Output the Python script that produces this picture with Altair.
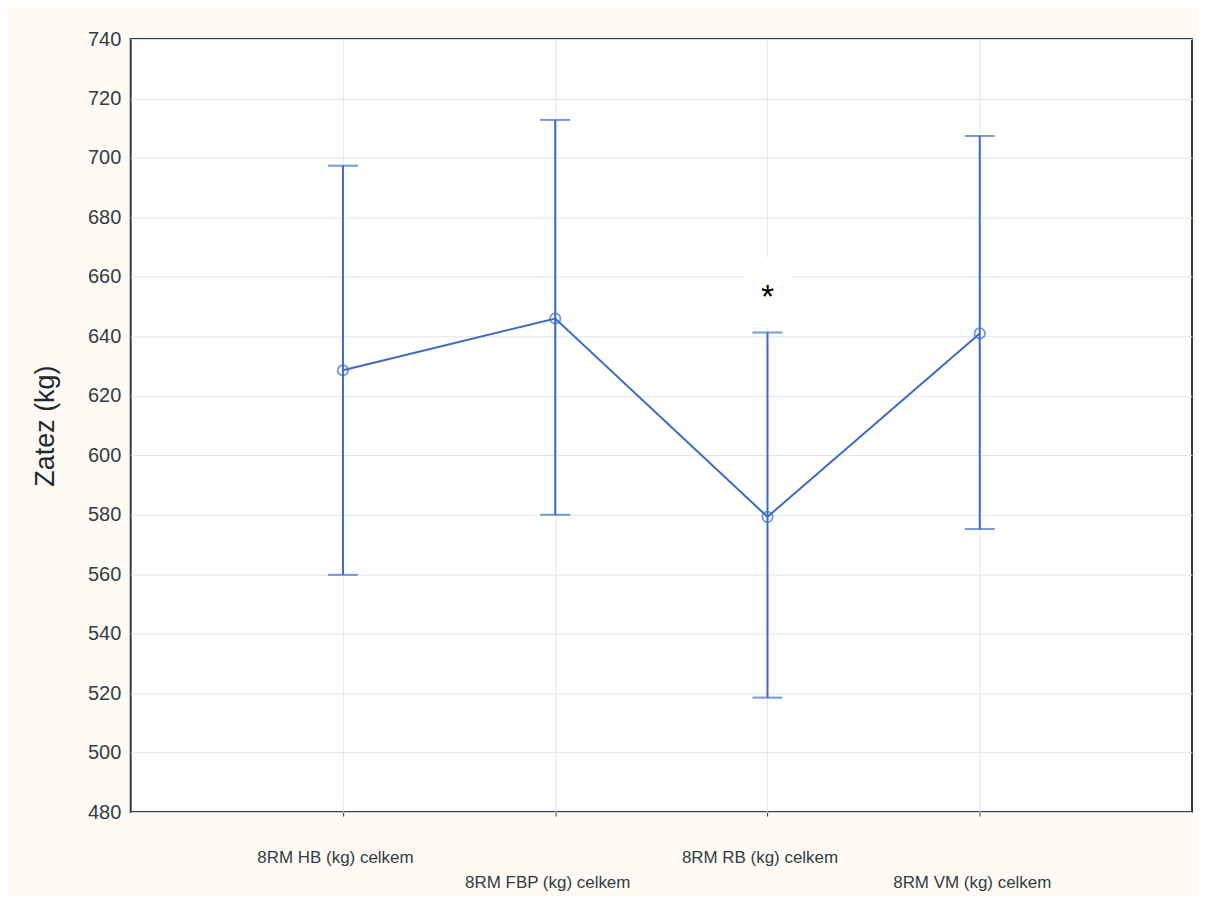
import altair as alt
import pandas as pd

categories = ["8RM HB (kg) celkem", "8RM FBP (kg) celkem", "8RM RB (kg) celkem", "8RM VM (kg) celkem"]
positions = [1, 2, 3, 4]
means = [628.6, 646.0, 579.3, 641.0]
upper = [697.4, 712.8, 641.3, 707.4]
lower = [559.8, 580.0, 518.5, 575.2]

star_pos = [3]
star_val = [654.8]
star_text = ["*"]
# white patch behind the asterisk (data units)
patch_x = [2.89]
patch_x2 = [3.11]
patch_y = [643.0]
patch_y2 = [666.5]

df = pd.DataFrame({"pos": positions, "cat": categories, "mean": means, "upper": upper, "lower": lower})
star_df = pd.DataFrame({"pos": star_pos, "val": star_val, "t": star_text})
patch_df = pd.DataFrame({"x": patch_x, "x2": patch_x2, "y": patch_y, "y2": patch_y2})

blue = "#3a6cc6"
grid = "#dce6ef"
ink = "#2f3d44"

label_expr = (
    "datum.value == 1 ? ['8RM HB (kg) celkem', ''] : "
    "datum.value == 2 ? ['', '8RM FBP (kg) celkem'] : "
    "datum.value == 3 ? ['8RM RB (kg) celkem', ''] : "
    "datum.value == 4 ? ['', '8RM VM (kg) celkem'] : ''"
)

xscale = alt.Scale(domain=[0, 5], nice=False, zero=False)
yscale = alt.Scale(domain=[480, 740], nice=False, zero=False)

x_enc = alt.X("pos:Q", scale=xscale, axis=alt.Axis(
    values=positions, labelExpr=label_expr, title=None, grid=True, gridColor=grid,
    gridWidth=1, labelFont="Liberation Sans", labelFontSize=17, labelColor=ink,
    labelBaseline="top", labelPadding=34, labelLineHeight=25, labelOffset=-8,
    tickSize=4, tickColor=ink, domain=False, labelAngle=0))
y_enc = alt.Y("mean:Q", scale=yscale, axis=alt.Axis(
    values=list(range(480, 741, 20)), title="Zatez (kg)", titleFont="Liberation Sans",
    titleFontSize=27, titleFontWeight="normal", titleColor="#1e2a30", titlePadding=28,
    labelFont="Liberation Sans", labelFontSize=20, labelColor=ink, labelPadding=10,
    grid=True, gridColor=grid, gridWidth=1, ticks=False, domain=False))

base = alt.Chart(df)

patch = alt.Chart(patch_df).mark_rect(color="white").encode(
    x=alt.X("x:Q", scale=xscale), x2="x2:Q",
    y=alt.Y("y:Q", scale=yscale), y2="y2:Q")

bars = base.mark_rule(color=blue, strokeWidth=2).encode(
    x=alt.X("pos:Q", scale=xscale),
    y=alt.Y("lower:Q", scale=yscale), y2="upper:Q")

cap_hi = base.mark_tick(color=blue, thickness=2, size=30, orient="horizontal").encode(
    x=alt.X("pos:Q", scale=xscale), y=alt.Y("upper:Q", scale=yscale))
cap_lo = base.mark_tick(color=blue, thickness=2, size=30, orient="horizontal").encode(
    x=alt.X("pos:Q", scale=xscale), y=alt.Y("lower:Q", scale=yscale))

line = base.mark_line(color=blue, strokeWidth=2).encode(x=x_enc, y=y_enc)
pts = base.mark_point(shape="circle", filled=False, color=blue, size=110, strokeWidth=1.8).encode(
    x=alt.X("pos:Q", scale=xscale), y=alt.Y("mean:Q", scale=yscale))

star = alt.Chart(star_df).mark_text(font="Liberation Sans", fontSize=34, color="black", baseline="middle", dy=6).encode(
    x=alt.X("pos:Q", scale=xscale), y=alt.Y("val:Q", scale=yscale), text="t:N")

chart = alt.layer(line, patch, bars, cap_hi, cap_lo, pts, star).properties(
    width=1064, height=775,
    autosize=alt.AutoSizeParams(type="none"),
    padding={"left": 123, "top": 30, "right": 6, "bottom": 84},
    background="#fffbf4",
).configure_view(stroke=ink, strokeWidth=2, fill="white")

chart.save("out.html", embed_options={"renderer": "svg", "actions": False})
